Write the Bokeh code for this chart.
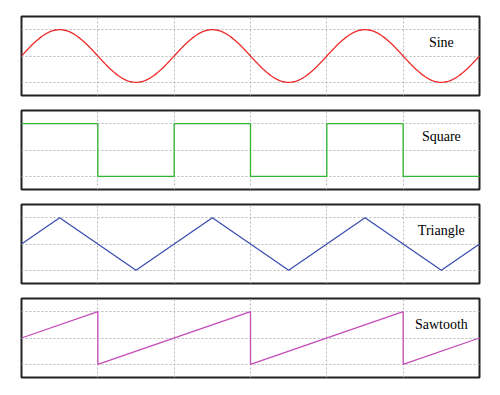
import numpy as np
from bokeh.plotting import figure
from bokeh.layouts import column
from bokeh.models import Range1d, FixedTicker
from bokeh.core.properties import value
from bokeh.embed import file_html
from bokeh.resources import INLINE

# --- data ---
x_grid_ticks = [1, 2, 3, 4, 5]
y_grid_ticks = [-1, 0, 1]

sine_amplitude = 1.0
sine_period = 2.0
sine_x = np.linspace(0, 6, 361)
sine_y = sine_amplitude * np.sin(2 * np.pi * sine_x / sine_period)

square_x = [0, 1, 1, 2, 2, 3, 3, 4, 4, 5, 5, 6]
square_y = [1, 1, -1, -1, 1, 1, -1, -1, 1, 1, -1, -1]

triangle_x = [0, 0.5, 1.5, 2.5, 3.5, 4.5, 5.5, 6]
triangle_y = [0, 1, -1, 1, -1, 1, -1, 0]

sawtooth_x = [0, 1, 1, 3, 3, 5, 5, 6]
sawtooth_y = [0, 1, -1, 1, -1, 1, -1, 0]

labels = ["Sine", "Square", "Triangle", "Sawtooth"]
label_x = 5.5
label_y = 0.5

series = [
    (sine_x, sine_y, "#ee2a2a"),
    (square_x, square_y, "#2fb52f"),
    (triangle_x, triangle_y, "#3a4fb0"),
    (sawtooth_x, sawtooth_y, "#c44cb8"),
]

panels = []
for i, ((xs, ys, color), label) in enumerate(zip(series, labels)):
    top = 16 if i == 0 else 8
    p = figure(width=492, height=79 + top + 7, output_backend="svg", toolbar_location=None,
               x_range=Range1d(0, 6), y_range=Range1d(-1.5, 1.5),
               min_border_left=21, min_border_right=13,
               min_border_top=top, min_border_bottom=7)
    p.axis.visible = False
    p.xgrid.ticker = FixedTicker(ticks=x_grid_ticks)
    p.ygrid.ticker = FixedTicker(ticks=y_grid_ticks)
    p.grid.grid_line_color = "#b8b8b8"
    p.grid.grid_line_dash = "2 2"
    p.grid.grid_line_width = 1
    p.outline_line_color = "#222222"
    p.outline_line_width = 2
    p.background_fill_color = "white"
    p.border_fill_color = "white"
    p.line(list(xs), list(ys), line_color=color, line_width=1.3)
    p.text(x=[label_x], y=[label_y], text=[label],
           text_font=value("Liberation Serif"), text_font_size="14px",
           text_align="center", text_baseline="middle", text_color="black")
    panels.append(p)

layout = column(*panels, spacing=0)
open("out.html", "w").write(file_html(layout, INLINE))
